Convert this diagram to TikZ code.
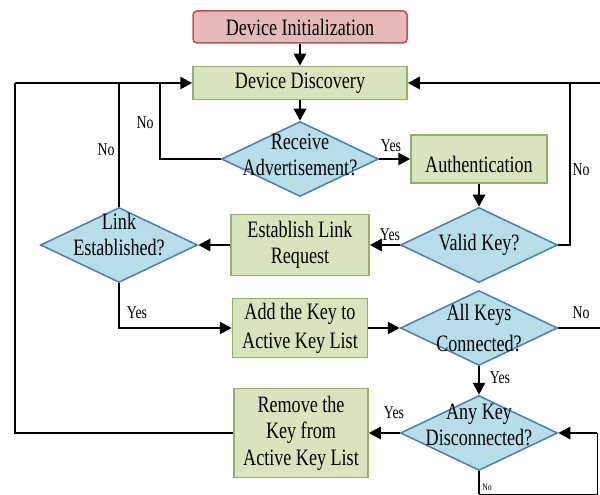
\documentclass[tikz,border=0pt]{standalone}
\usepackage{fontspec}
\setmainfont{Liberation Serif}[FakeStretch=0.77]
\usetikzlibrary{shapes.geometric,arrows.meta}

\definecolor{gfill}{HTML}{D8E4BC}
\definecolor{gline}{HTML}{98AD66}
\definecolor{dfill}{HTML}{B7DDE8}
\definecolor{dline}{HTML}{4A7EAE}
\definecolor{rfill}{HTML}{E6B9B8}
\definecolor{rline}{HTML}{C0504D}

\begin{document}
\begin{tikzpicture}[x=1pt,y=-1pt]
				\tikzstyle{txt}=[font=\fontsize{23.5}{26}\selectfont,align=center,inner sep=0pt]
				\tikzstyle{rbox}=[txt,draw=rline,fill=rfill,line width=1.5pt,rounded corners=4pt]
				\tikzstyle{gbox}=[txt,draw=gline,fill=gfill,line width=1.5pt]
				\tikzstyle{dia}=[diamond,draw=dline,fill=dfill,line width=1.5pt,minimum width=157pt,minimum height=75pt,inner sep=0pt]
				\tikzstyle{lbl}=[font=\fontsize{18}{18}\selectfont,inner sep=0pt]
				\tikzstyle{arr}=[line width=2.6pt,-{Triangle[length=12pt,width=12pt]}]
				\tikzstyle{ln}=[line width=2.6pt]

				\useasboundingbox (0,0) rectangle (600,495);

				\node[rbox,minimum width=214pt,minimum height=32pt] (init) at (300,27) {Device Initialization};
				\node[gbox,minimum width=214pt,minimum height=33pt] (disc) at (300,83) {Device Discovery};
				\node[dia] (recv) at (300,159) {};
				\node[txt] (recvt) at (300,155) {Receive\\Advertisement?};
				\node[gbox,minimum width=136pt,minimum height=48pt] (auth) at (479,159) {};
				\node[txt] (autht) at (479,164) {Authentication};
				\node[dia] (valid) at (479,245) {};
				\node[txt] (validt) at (479,245) {Valid Key?};
				\node[gbox,minimum width=138pt,minimum height=61pt] (est) at (300,245) {Establish Link\\Request};
				\node[dia] (link) at (119,245) {};
				\node[txt] (linkt) at (119,235) {Link\\Established?};
				\node[gbox,minimum width=135pt,minimum height=59pt,font=\fontsize{23.5}{29}\selectfont] (add) at (300,328) {Add the Key to\\Active Key List};
				\node[dia] (allk) at (479,328) {};
				\node[txt,font=\fontsize{23.5}{31}\selectfont] (allkt) at (479,328) {All Keys\\Connected?};
				\node[dia] (anyk) at (479,433) {};
				\node[txt] (anykt) at (479,425) {Any Key\\Disconnected?};
				\node[gbox,minimum width=134pt,minimum height=89pt,font=\fontsize{23.5}{26.5}\selectfont] (rem) at (301,433) {Remove the\\Key from\\Active Key List};

				\coordinate (tl) at (15,83);
				\coordinate (bl) at (15,433);
				\coordinate (rn) at (160,83);
				\coordinate (vr) at (570,83);
				\coordinate (tr) at (600,83);
				\coordinate (b1) at (479,494);
				\coordinate (b2) at (597,494);
				\coordinate (b3) at (597,433);

				\foreach \from/\to in {init/disc,disc/recv,recv/auth,auth/valid,valid/est,est/link,add/allk,allk/anyk,anyk/rem}
				\draw[arr] (\from) -- (\to);

				\draw[ln] (rem) -- (bl) -- (tl);
				\draw[arr] (tl) -- (disc);
				\draw[arr] (tr) -- (disc);
				\draw[ln] (recv.west) -| (rn);
				\draw[ln] (link.north) -- (link.north |- tl);
				\draw[arr] (link.south) |- (add);
				\draw[ln] (valid.east) -| (vr);
				\draw[ln] (allk.east) -- (allk.east -| tr);
				\draw[line width=1.5pt] (anyk.south) -- (b1);
				\draw[line width=0.8pt] (b1) -- (b2) -- (b3);
				\draw[arr] (b3) -- (anyk);

				\node[lbl] (no1) at (145,123) {No};
				\node[lbl] (no2) at (106,150) {No};
				\node[lbl] (yes1) at (391,146) {Yes};
				\node[lbl] (no3) at (581,170) {No};
				\node[lbl] (yes2) at (390,235) {Yes};
				\node[lbl] (yes3) at (137,313) {Yes};
				\node[lbl] (no4) at (581,313) {No};
				\node[lbl] (yes4) at (500,378) {Yes};
				\node[lbl] (yes5) at (394,413) {Yes};
				\node[lbl,font=\fontsize{10}{10}\selectfont] (no5) at (487,487) {No};
			\end{tikzpicture}
\end{document}
